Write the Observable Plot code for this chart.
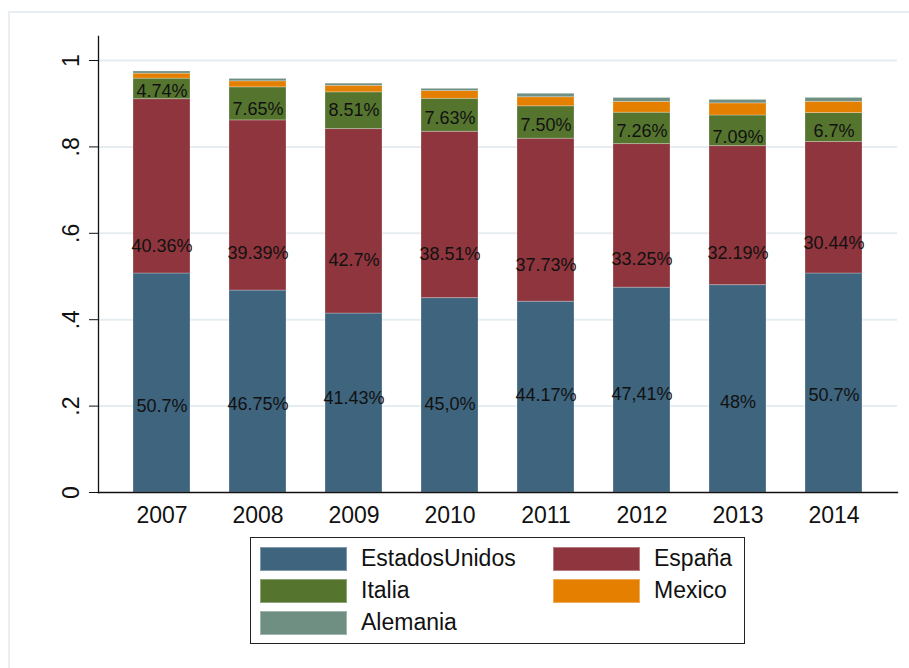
<!DOCTYPE html>
<html>
<head>
<meta charset="utf-8">
<script src="https://cdn.jsdelivr.net/npm/d3@7"></script>
<script src="https://cdn.jsdelivr.net/npm/@observablehq/plot@0.6"></script>
<style>
  html, body { margin: 0; padding: 0; background: #fff; }
  #wrap { position: relative; width: 909px; height: 668px; overflow: hidden; font-family: "Liberation Sans", Arial, sans-serif; }
  #frame { position: absolute; left: 8px; top: 11px; width: 960px; height: 700px; border-left: 2px solid #e8eef2; border-top: 2px solid #e8eef2; }
  #chart { position: absolute; left: 0; top: 0; }
  #legend { position: absolute; left: 250px; top: 537px; width: 493px; height: 105px; border: 1px solid #222; box-sizing: content-box; }
  .item { position: absolute; display: flex; align-items: center; height: 23px; }
  .sw { width: 85px; height: 22px; border: 1px solid rgba(255,255,255,0.35); box-sizing: content-box; }
  .lab { margin-left: 14px; font-size: 23px; color: #111; line-height: 23px; }
</style>
</head>
<body>
<div id="wrap">
  <div id="frame"></div>
  <div id="chart"></div>
  <div id="legend"></div>
</div>
<script>
const years = ["2007","2008","2009","2010","2011","2012","2013","2014"];
const seriesNames = ["EstadosUnidos","España","Italia","Mexico","Alemania"];
const seriesColors = ["#3e647e","#8f353d","#55752f","#e57f00","#6f8f82"];

const estadosUnidos = [0.507, 0.4675, 0.4143, 0.450, 0.4417, 0.4741, 0.48, 0.507];
const espana        = [0.4036, 0.3939, 0.427, 0.3851, 0.3773, 0.3325, 0.3219, 0.3044];
const italia        = [0.0474, 0.0765, 0.0851, 0.0763, 0.075, 0.0726, 0.0709, 0.067];
const mexico        = [0.0116, 0.014, 0.015, 0.018, 0.021, 0.025, 0.028, 0.026];
const alemania      = [0.005, 0.0055, 0.005, 0.005, 0.008, 0.009, 0.008, 0.009];

const labelsUS = ["50.7%","46.75%","41.43%","45,0%","44.17%","47,41%","48%","50.7%"];
const labelsES = ["40.36%","39.39%","42.7%","38.51%","37.73%","33.25%","32.19%","30.44%"];
const labelsIT = ["4.74%","7.65%","8.51%","7.63%","7.50%","7.26%","7.09%","6.7%"];
// label anchor heights (data units)
const labelYUS = [0.200, 0.205, 0.219, 0.204, 0.2245, 0.227, 0.209, 0.2245];
const labelYES = [0.570, 0.555, 0.537, 0.551, 0.527, 0.539, 0.555, 0.578];
const labelYIT = [0.928, 0.888, 0.884, 0.866, 0.851, 0.836, 0.822, 0.836];

const yTicks = [0, 0.2, 0.4, 0.6, 0.8, 1];
const yTickLabels = ["0", ".2", ".4", ".6", ".8", "1"];

const seriesValues = [estadosUnidos, espana, italia, mexico, alemania];
const table = [];
seriesNames.forEach((s, si) => years.forEach((yr, i) => table.push({year: yr, series: s, value: seriesValues[si][i]})));

const labelTable = [];
[[labelsUS, labelYUS], [labelsES, labelYES], [labelsIT, labelYIT]].forEach(([labs, ys]) =>
  years.forEach((yr, i) => labelTable.push({year: yr, label: labs[i], y: ys[i]})));

const tickTable = yTicks.map((v, i) => ({v, t: yTickLabels[i]}));

const font = '"Liberation Sans", Arial, sans-serif';

const chart = Plot.plot({
  width: 909,
  height: 530,
  marginLeft: 98,
  marginRight: 12,
  marginTop: 36,
  marginBottom: 38,
  style: {fontFamily: font, background: "transparent", color: "#111"},
  x: {domain: years, paddingInner: 0.405, paddingOuter: 0.36, label: null},
  y: {domain: [0, 1.0556], label: null},
  color: {domain: seriesNames, range: seriesColors},
  marks: [
    Plot.gridY(yTicks.slice(1), {stroke: "#e6edf1", strokeOpacity: 1, strokeWidth: 2}),
    Plot.barY(table, {x: "year", y: "value", fill: "series", order: seriesNames, stroke: "#ffffff", strokeOpacity: 0.25, strokeWidth: 1}),
    Plot.text(labelTable, {x: "year", y: "y", text: "label", fontSize: 18, fill: "#111", lineAnchor: "middle"}),
    Plot.axisX({tickSize: 0, tickPadding: 14, fontSize: 23, label: null, fill: "#111"}),
    Plot.axisY({ticks: yTicks, tickSize: 9, tickFormat: () => "", label: null, stroke: "#111"}),
    Plot.text(tickTable, {y: "v", text: "t", frameAnchor: "left", dx: -27, rotate: -90, textAnchor: "middle", lineAnchor: "middle", fontSize: 23, fill: "#111"}),
    Plot.frame({anchor: "left", stroke: "#111", strokeWidth: 1.3}),
    Plot.frame({anchor: "bottom", stroke: "#111", strokeWidth: 1.3})
  ]
});
document.getElementById("chart").appendChild(chart);

// legend built from the same series arrays
const legend = document.getElementById("legend");
seriesNames.forEach((s, i) => {
  const col = i % 2, row = Math.floor(i / 2);
  const item = document.createElement("div");
  item.className = "item";
  item.style.left = (9 + col * 293) + "px";
  item.style.top = (9 + row * 32) + "px";
  const sw = document.createElement("div");
  sw.className = "sw";
  sw.style.background = seriesColors[i];
  const lab = document.createElement("span");
  lab.className = "lab";
  lab.textContent = s;
  item.appendChild(sw);
  item.appendChild(lab);
  legend.appendChild(item);
});
</script>
</body>
</html>
